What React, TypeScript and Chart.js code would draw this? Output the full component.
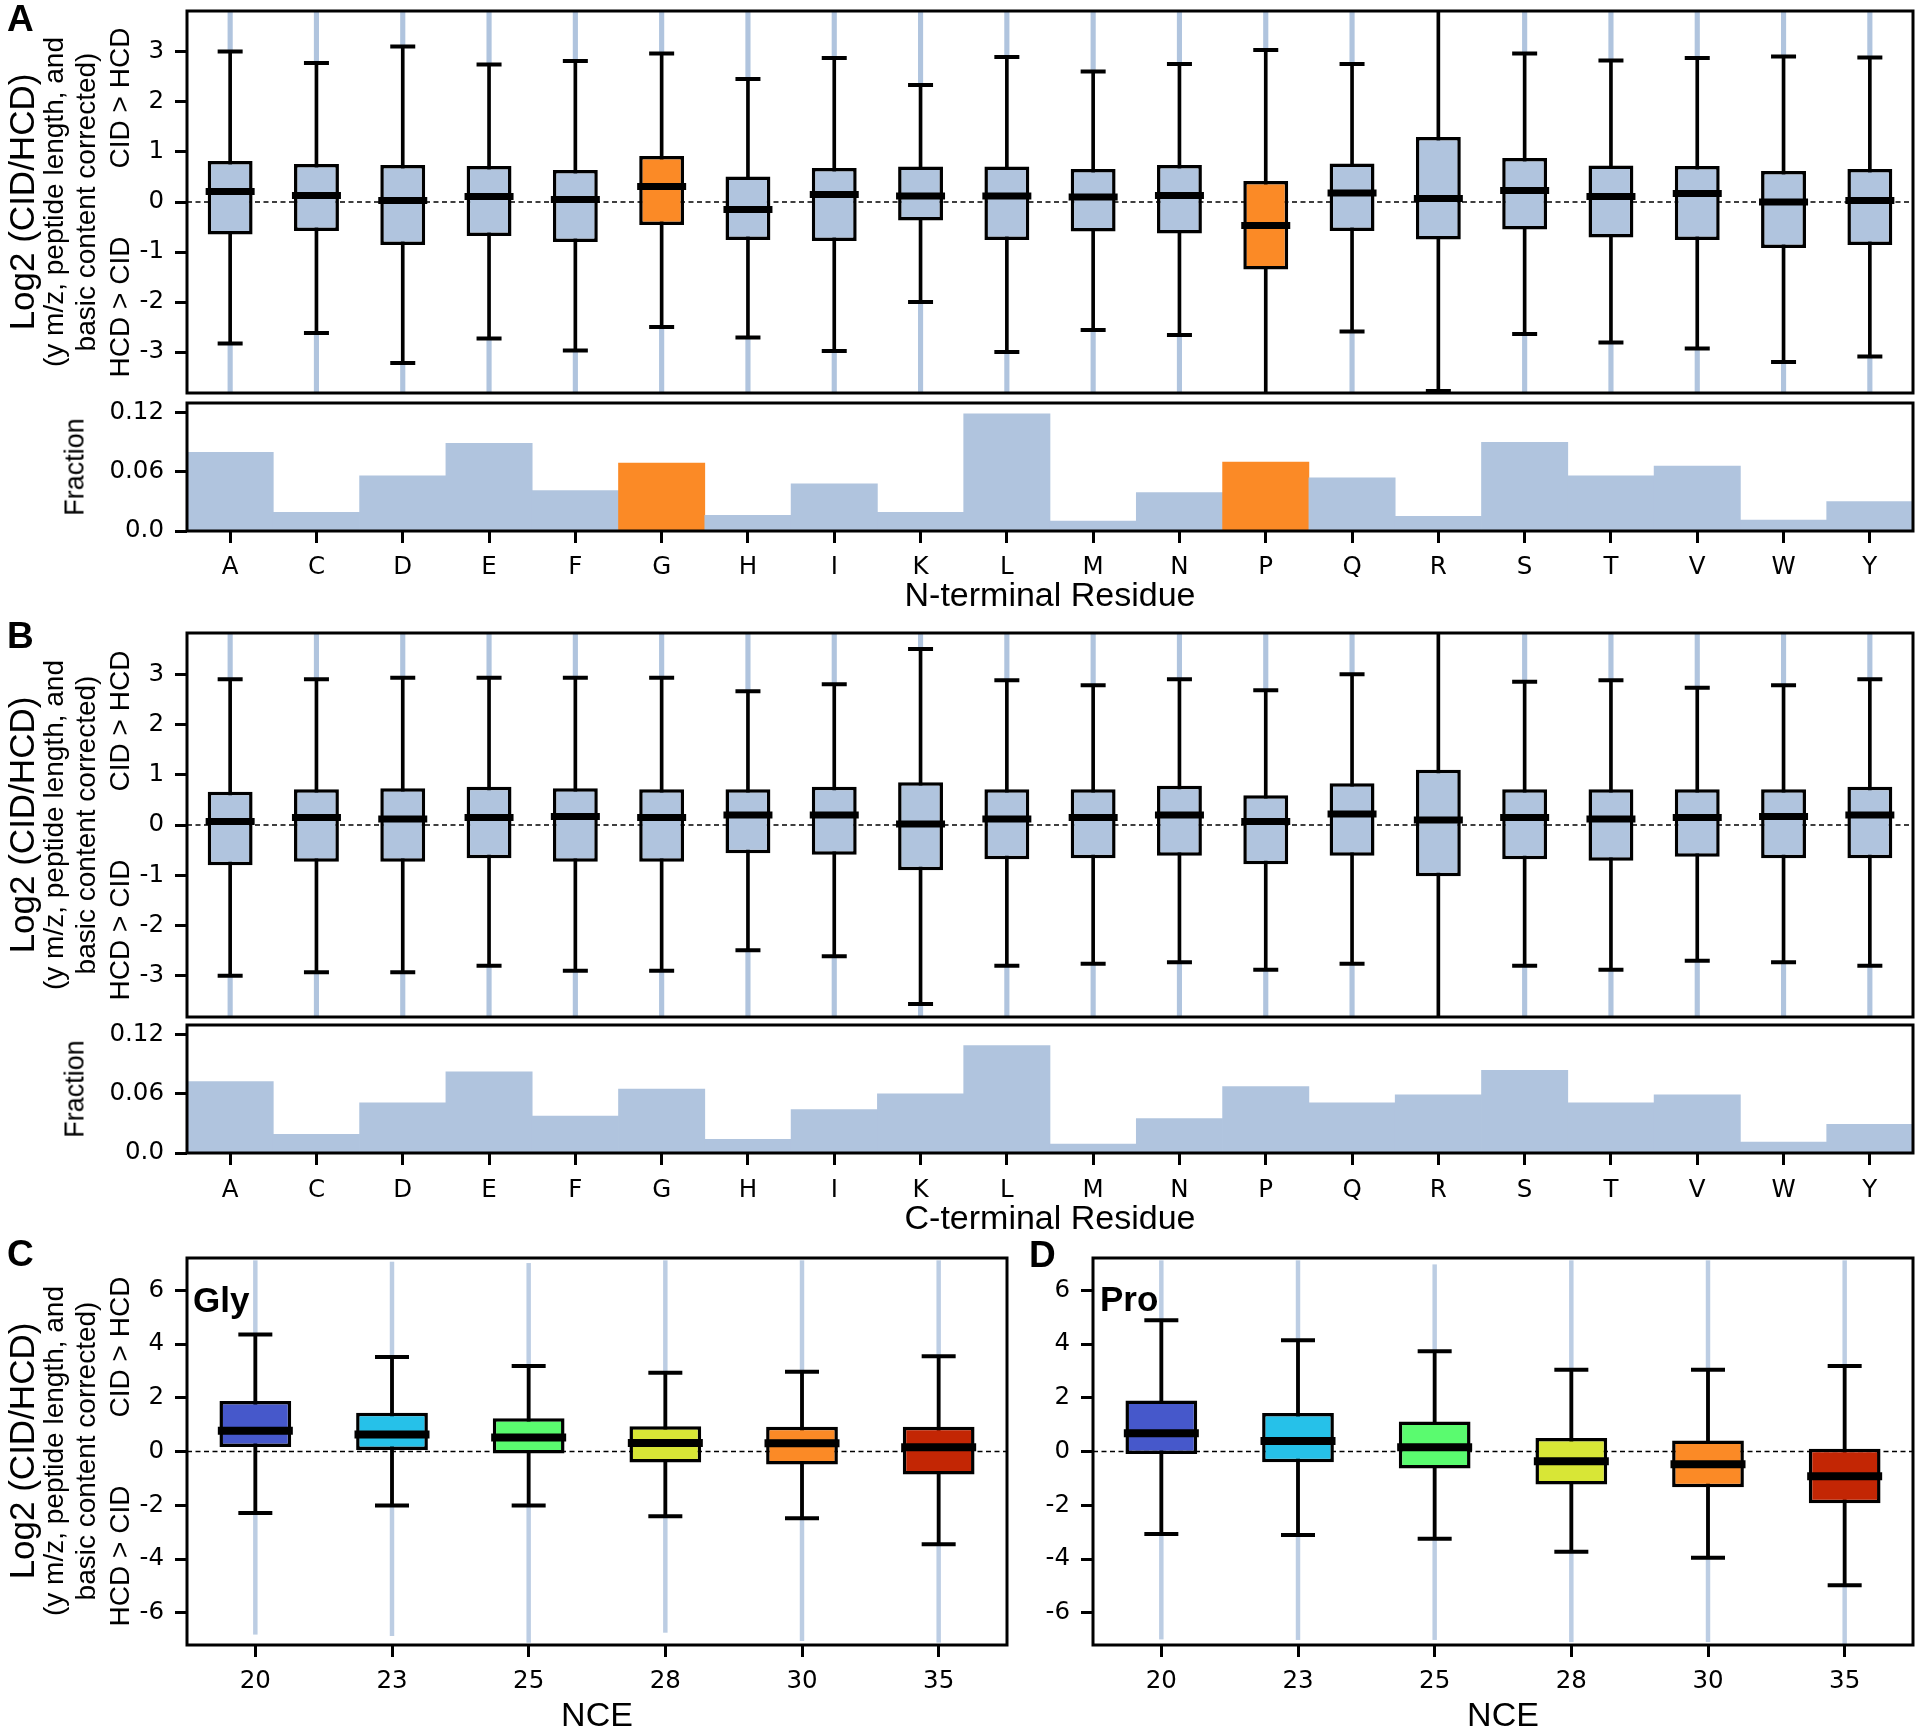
import React, { useEffect, useRef } from 'react';
import { Chart, registerables } from 'chart.js';

Chart.register(...registerables);

// ---------------- DATA ----------------
const residues = ['A', 'C', 'D', 'E', 'F', 'G', 'H', 'I', 'K', 'L', 'M', 'N', 'P', 'Q', 'R', 'S', 'T', 'V', 'W', 'Y'];
const nceLabels = ['20', '23', '25', '28', '30', '35'];

const boxTickValues = [-3, -2, -1, 0, 1, 2, 3];
const boxTickLabels = ['-3', '-2', '-1', '0', '1', '2', '3'];
const fracTickValues = [0, 0.06, 0.12];
const fracTickLabels = ['0.0', '0.06', '0.12'];
const nceTickValues = [-6, -4, -2, 0, 2, 4, 6];
const nceTickLabels = ['-6', '-4', '-2', '0', '2', '4', '6'];

// Panel A: N-terminal residue
const nWhiskerHigh = [3.01, 2.78, 3.11, 2.75, 2.82, 2.97, 2.46, 2.88, 2.34, 2.9, 2.61, 2.76, 3.04, 2.76, 4.2, 2.97, 2.83, 2.88, 2.91, 2.89];
const nQ3 = [0.82, 0.76, 0.74, 0.72, 0.64, 0.92, 0.51, 0.68, 0.71, 0.71, 0.66, 0.74, 0.42, 0.77, 1.3, 0.88, 0.73, 0.72, 0.62, 0.66];
const nMedian = [0.21, 0.13, 0.03, 0.11, 0.05, 0.31, -0.15, 0.15, 0.12, 0.12, 0.1, 0.13, -0.47, 0.18, 0.07, 0.23, 0.11, 0.17, 0.0, 0.03];
const nQ1 = [-0.65, -0.58, -0.86, -0.68, -0.8, -0.46, -0.76, -0.78, -0.37, -0.76, -0.59, -0.63, -1.35, -0.58, -0.75, -0.55, -0.71, -0.76, -0.92, -0.86];
const nWhiskerLow = [-2.83, -2.62, -3.22, -2.73, -2.97, -2.5, -2.71, -2.98, -2.0, -3.0, -2.56, -2.66, -4.3, -2.59, -3.78, -2.64, -2.81, -2.93, -3.2, -3.09];
const nOutlierMax = [3.9, 3.9, 3.9, 3.9, 3.9, 3.9, 3.9, 3.9, 3.9, 3.9, 3.9, 3.9, 3.9, 3.9, null, 3.9, 3.9, 3.9, 3.9, 3.9];
const nOutlierMin = [-3.9, -3.85, -3.9, -3.9, -3.9, -3.9, -3.9, -3.9, -3.9, -3.9, -3.9, -3.9, null, -3.9, null, -3.9, -3.9, -3.9, -3.9, -3.9];
const nFraction = [0.08, 0.019, 0.056, 0.089, 0.041, 0.069, 0.016, 0.048, 0.019, 0.119, 0.01, 0.039, 0.07, 0.054, 0.015, 0.09, 0.056, 0.066, 0.011, 0.03];
const nHighlight = ['G', 'P'];

// Panel B: C-terminal residue
const cWhiskerHigh = [2.9, 2.9, 2.93, 2.93, 2.93, 2.93, 2.66, 2.8, 3.5, 2.88, 2.78, 2.9, 2.68, 3.0, 4.2, 2.85, 2.88, 2.73, 2.78, 2.9];
const cQ3 = [0.66, 0.71, 0.73, 0.76, 0.73, 0.71, 0.71, 0.76, 0.85, 0.71, 0.71, 0.78, 0.59, 0.83, 1.1, 0.71, 0.71, 0.71, 0.71, 0.76];
const cMedian = [0.07, 0.15, 0.12, 0.15, 0.17, 0.15, 0.2, 0.2, 0.02, 0.12, 0.15, 0.2, 0.07, 0.22, 0.1, 0.15, 0.12, 0.15, 0.17, 0.2];
const cQ1 = [-0.8, -0.73, -0.73, -0.66, -0.73, -0.73, -0.56, -0.59, -0.9, -0.68, -0.66, -0.61, -0.78, -0.61, -1.02, -0.68, -0.71, -0.63, -0.66, -0.66];
const cWhiskerLow = [-3.0, -2.93, -2.93, -2.8, -2.9, -2.9, -2.49, -2.61, -3.56, -2.8, -2.76, -2.73, -2.88, -2.76, -4.2, -2.8, -2.88, -2.7, -2.73, -2.8];
const cOutlierMax = [3.9, 3.9, 3.9, 3.9, 3.9, 3.9, 3.9, 3.9, 3.9, 3.9, 3.9, 3.9, 3.9, 3.9, null, 3.9, 3.9, 3.9, 3.9, 3.9];
const cOutlierMin = [-3.9, -3.9, -3.9, -3.9, -3.9, -3.9, -3.9, -3.9, -3.9, -3.9, -3.9, -3.9, -3.9, -3.9, null, -3.9, -3.9, -3.9, -3.9, -3.9];
const cFraction = [0.0725, 0.019, 0.051, 0.0825, 0.0375, 0.065, 0.014, 0.044, 0.06, 0.109, 0.009, 0.035, 0.0675, 0.051, 0.059, 0.084, 0.051, 0.059, 0.011, 0.029];

// Panel C: Gly vs NCE
const glyWhiskerHigh = [4.35, 3.52, 3.18, 2.93, 2.97, 3.54];
const glyQ3 = [1.88, 1.44, 1.24, 0.94, 0.92, 0.92];
const glyMedian = [0.77, 0.63, 0.52, 0.32, 0.31, 0.16];
const glyQ1 = [0.17, 0.06, -0.07, -0.41, -0.48, -0.86];
const glyWhiskerLow = [-2.29, -2.01, -2.01, -2.41, -2.48, -3.45];
const glyOutlierMax = [7.1, 7.05, 7.0, 7.1, 7.1, 7.1];
const glyOutlierMin = [-6.8, -6.85, -7.1, -6.73, -7.04, -7.1];

// Panel D: Pro vs NCE
const proWhiskerHigh = [4.88, 4.14, 3.73, 3.04, 3.04, 3.18];
const proQ3 = [1.9, 1.43, 1.12, 0.5, 0.41, 0.1];
const proMedian = [0.68, 0.39, 0.16, -0.36, -0.47, -0.92];
const proQ1 = [-0.09, -0.4, -0.63, -1.23, -1.33, -1.93];
const proWhiskerLow = [-3.07, -3.11, -3.25, -3.73, -3.95, -4.98];
const proOutlierMax = [7.1, 7.1, 6.95, 7.1, 7.1, 7.1];
const proOutlierMin = [-6.98, -7.0, -7.0, -7.08, -7.08, -7.2];

const nceColors = ['#4658cb', '#26c1e9', '#5afb6f', '#d8e636', '#fb8a26', '#c32604'];

// ---------------- STYLE ----------------
const STEEL = '#b0c4de';
const STEEL_LIGHT = '#bccde3';
const ORANGE = '#fb8a26';
const TICK_FONT = "'DejaVu Sans', sans-serif";
const TITLE_FONT = "'Liberation Sans', Arial, sans-serif";
const TICK_SIZE = 24.5;

type Stats = {
  hi: number[]; q3: number[]; med: number[]; q1: number[]; lo: number[];
  outHi: (number | null)[]; outLo: (number | null)[];
};
type Sizes = { boxPct: number; medR: number; medW: number; capR: number; capW: number; streak: number; streakColor: string; whisker: number; border: number };

const zeroLinePlugin = {
  id: 'zeroLine',
  beforeDatasetsDraw(chart: any) {
    const { ctx, chartArea: a, scales } = chart;
    const py = scales.y.getPixelForValue(0);
    ctx.save();
    ctx.beginPath();
    ctx.setLineDash([5, 3.5]);
    ctx.lineWidth = 1.6;
    ctx.strokeStyle = '#000';
    ctx.moveTo(a.left, py);
    ctx.lineTo(a.right, py);
    ctx.stroke();
    ctx.restore();
  },
};

const framePlugin = {
  id: 'frame',
  afterDraw(chart: any) {
    const { ctx, chartArea: a } = chart;
    ctx.save();
    ctx.lineWidth = 3;
    ctx.strokeStyle = '#000';
    ctx.strokeRect(a.left, a.top, a.right - a.left, a.bottom - a.top);
    ctx.restore();
  },
};

function yScale(min: number, max: number, ticks: number[], labels: string[], width: number) {
  return {
    type: 'linear',
    min,
    max,
    afterFit: (s: any) => { s.width = width; s.paddingTop = 0; s.paddingBottom = 0; },
    afterBuildTicks: (s: any) => { s.ticks = ticks.map((v) => ({ value: v })); },
    ticks: { color: '#000', font: { family: TICK_FONT, size: TICK_SIZE }, padding: 11, callback: (_v: any, i: number) => labels[i] },
    grid: { display: true, drawOnChartArea: false, drawTicks: true, tickLength: 12, tickWidth: 3, tickColor: '#000' },
    border: { display: false },
  };
}

function xScale(title: string, height: number, padding: number, titleBottom: number) {
  return {
    type: 'category',
    offset: true,
    afterFit: (s: any) => { s.height = height; s.paddingLeft = 0; s.paddingRight = 0; },
    ticks: { color: '#000', font: { family: TICK_FONT, size: TICK_SIZE }, padding, maxRotation: 0, autoSkip: false },
    grid: { display: true, offset: false, drawOnChartArea: false, drawTicks: true, tickLength: 12, tickWidth: 3, tickColor: '#000' },
    border: { display: false },
    title: { display: true, text: title, color: '#000', font: { family: TITLE_FONT, size: 34 }, padding: { top: 0, bottom: titleBottom } },
  };
}

function boxDatasets(s: Stats, colors: string[], yMax: number, z: Sizes) {
  const inRange = (v: number) => (Math.abs(v) <= yMax ? v : null);
  const pointLine = (data: any[], r: number, w: number, order: number) => ({
    type: 'line', data, showLine: false, pointStyle: 'line',
    pointRadius: r, pointHoverRadius: r, pointBorderWidth: w, pointHoverBorderWidth: w,
    pointBorderColor: '#000', pointBackgroundColor: '#000', order,
  });
  return [
    pointLine(s.med, z.medR, z.medW, 1),
    pointLine(s.hi.map(inRange), z.capR, z.capW, 2),
    pointLine(s.lo.map(inRange), z.capR, z.capW, 2),
    {
      type: 'bar', data: s.q1.map((v, i) => [v, s.q3[i]]), backgroundColor: colors, borderColor: '#000',
      borderWidth: z.border, borderSkipped: false, barPercentage: z.boxPct, categoryPercentage: 1, grouped: false, order: 3, clip: 0,
    },
    { type: 'bar', data: s.lo.map((v, i) => [v, s.hi[i]]), backgroundColor: '#000', barThickness: z.whisker, grouped: false, order: 4, clip: 0 },
    { type: 'bar', data: s.hi.map((v, i) => (s.outHi[i] == null ? null : [v, s.outHi[i]])), backgroundColor: z.streakColor, barThickness: z.streak, grouped: false, order: 5, clip: 0 },
    { type: 'bar', data: s.lo.map((v, i) => (s.outLo[i] == null ? null : [s.outLo[i], v])), backgroundColor: z.streakColor, barThickness: z.streak, grouped: false, order: 5, clip: 0 },
  ];
}

const baseOptions = {
  animation: false,
  responsive: false,
  devicePixelRatio: 1,
  events: [],
  plugins: { legend: { display: false }, tooltip: { enabled: false } },
};

const residueSizes: Sizes = { boxPct: 0.52, medR: 24.5, medW: 7, capR: 12.5, capW: 4, streak: 4.5, streakColor: STEEL, whisker: 3, border: 3.5 };
const nceSizes: Sizes = { boxPct: 0.525, medR: 37.5, medW: 8, capR: 17, capW: 4, streak: 3.8, streakColor: STEEL_LIGHT, whisker: 3.2, border: 3.5 };

function residueBoxConfig(s: Stats, colors: string[], pad: any) {
  return {
    type: 'bar',
    data: { labels: residues, datasets: boxDatasets(s, colors, 3.82, residueSizes) },
    options: {
      ...baseOptions,
      layout: { padding: pad, autoPadding: false },
      scales: { x: { type: 'category', display: false, offset: true }, y: yScale(-3.82, 3.82, boxTickValues, boxTickLabels, 187) },
    },
    plugins: [zeroLinePlugin, framePlugin],
  };
}

function fractionConfig(values: number[], colors: string[], pad: any, xHeight: number, labelPad: number, title: string) {
  return {
    type: 'bar',
    data: {
      labels: residues,
      datasets: [{ data: values, backgroundColor: colors, borderWidth: 0, barPercentage: 1, categoryPercentage: 1 }],
    },
    options: {
      ...baseOptions,
      layout: { padding: pad, autoPadding: false },
      scales: { x: xScale(title, xHeight, labelPad, 4), y: yScale(0, 0.13, fracTickValues, fracTickLabels, 187) },
    },
    plugins: [framePlugin],
  };
}

function nceConfig(s: Stats, yWidth: number, pad: any) {
  return {
    type: 'bar',
    data: { labels: nceLabels, datasets: boxDatasets(s, nceColors, 7.2, nceSizes) },
    options: {
      ...baseOptions,
      layout: { padding: pad, autoPadding: false },
      scales: { x: xScale('NCE', 92, 9.8, 0), y: yScale(-7.2, 7.2, nceTickValues, nceTickLabels, yWidth) },
    },
    plugins: [zeroLinePlugin, framePlugin],
  };
}

function ChartCanvas({ left, top, width, height, build }: { left: number; top: number; width: number; height: number; build: () => any }) {
  const ref = useRef<HTMLCanvasElement>(null);
  useEffect(() => {
    const chart = new Chart(ref.current as HTMLCanvasElement, build());
    return () => chart.destroy();
  }, []);
  return <canvas ref={ref} width={width} height={height} style={{ position: 'absolute', left, top, width, height }} />;
}

function Rot({ x, y, size, text }: { x: number; y: number; size: number; text: string }) {
  return (
    <div style={{
      position: 'absolute', left: x, top: y, transform: 'translate(-50%, -50%) rotate(-90deg)',
      fontFamily: TITLE_FONT, fontSize: size, lineHeight: 1, whiteSpace: 'nowrap', color: '#000',
    }}>{text}</div>
  );
}

function YTitle({ cy }: { cy: number }) {
  return (
    <>
      <Rot x={21} y={cy} size={35} text="Log2 (CID/HCD)" />
      <Rot x={54} y={cy} size={28} text="(y m/z, peptide length, and" />
      <Rot x={86} y={cy} size={28} text="basic content corrected)" />
      <Rot x={120} y={cy - 104} size={28} text="CID > HCD" />
      <Rot x={120} y={cy + 105} size={28} text="HCD > CID" />
    </>
  );
}

function Label({ x, y, size, text, bold }: { x: number; y: number; size: number; text: string; bold?: boolean }) {
  return (
    <div style={{
      position: 'absolute', left: x, top: y, fontFamily: TITLE_FONT, fontSize: size, lineHeight: 1,
      fontWeight: bold ? 'bold' : 'normal', whiteSpace: 'nowrap', color: '#000',
    }}>{text}</div>
  );
}

export default function App() {
  const nStats: Stats = { hi: nWhiskerHigh, q3: nQ3, med: nMedian, q1: nQ1, lo: nWhiskerLow, outHi: nOutlierMax, outLo: nOutlierMin };
  const cStats: Stats = { hi: cWhiskerHigh, q3: cQ3, med: cMedian, q1: cQ1, lo: cWhiskerLow, outHi: cOutlierMax, outLo: cOutlierMin };
  const glyStats: Stats = { hi: glyWhiskerHigh, q3: glyQ3, med: glyMedian, q1: glyQ1, lo: glyWhiskerLow, outHi: glyOutlierMax, outLo: glyOutlierMin };
  const proStats: Stats = { hi: proWhiskerHigh, q3: proQ3, med: proMedian, q1: proQ1, lo: proWhiskerLow, outHi: proOutlierMax, outLo: proOutlierMin };
  const nColors = residues.map((r) => (nHighlight.includes(r) ? ORANGE : STEEL));
  const cColors = residues.map(() => STEEL);

  return (
    <div style={{ position: 'absolute', left: 0, top: 0, width: 1920, height: 1735, overflow: 'hidden', background: '#fff' }}>
      <ChartCanvas left={0} top={0} width={1920} height={400}
        build={() => residueBoxConfig(nStats, nColors, { left: 0, top: 11, right: 7, bottom: 7 })} />
      <ChartCanvas left={0} top={400} width={1920} height={221}
        build={() => fractionConfig(nFraction, nColors, { left: 0, top: 3, right: 7, bottom: 0 }, 90, 10.3, 'N-terminal Residue')} />
      <ChartCanvas left={0} top={622} width={1920} height={400}
        build={() => residueBoxConfig(cStats, cColors, { left: 0, top: 11, right: 7, bottom: 5 })} />
      <ChartCanvas left={0} top={1022} width={1920} height={222}
        build={() => fractionConfig(cFraction, cColors, { left: 0, top: 3, right: 7, bottom: 0 }, 91, 10.8, 'C-terminal Residue')} />
      <ChartCanvas left={0} top={1244} width={1015} height={493}
        build={() => nceConfig(glyStats, 187, { left: 0, top: 14, right: 8, bottom: 0 })} />
      <ChartCanvas left={1010} top={1244} width={910} height={493}
        build={() => nceConfig(proStats, 83, { left: 0, top: 14, right: 7, bottom: 0 })} />

      <YTitle cy={202} />
      <YTitle cy={825} />
      <YTitle cy={1451} />
      <Rot x={75} y={467} size={27} text="Fraction" />
      <Rot x={75} y={1089} size={27} text="Fraction" />

      <Label x={7} y={0} size={37} text="A" bold />
      <Label x={7} y={617} size={37} text="B" bold />
      <Label x={7} y={1235} size={37} text="C" bold />
      <Label x={1029} y={1236} size={37} text="D" bold />
      <Label x={193} y={1282} size={35} text="Gly" bold />
      <Label x={1100} y={1281} size={35} text="Pro" bold />
    </div>
  );
}
